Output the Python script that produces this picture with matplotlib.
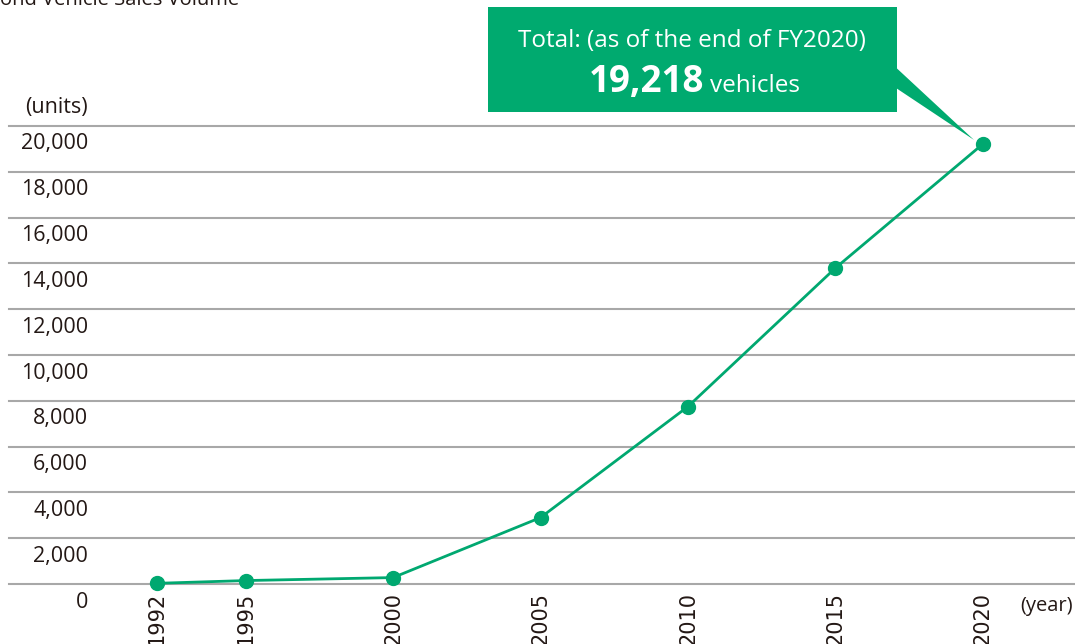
import matplotlib
matplotlib.use('Agg')
import matplotlib.pyplot as plt
from matplotlib.patches import Rectangle, Polygon
import matplotlib.transforms as mtransforms

# ---- data ----
years = [1992, 1995, 2000, 2005, 2010, 2015, 2020]
sales = [30, 150, 280, 2900, 7750, 13800, 19218]
y_ticks = list(range(0, 20001, 2000))
y_tick_labels = [f"{v:,}" for v in y_ticks]
x_tick_labels = [str(y) for y in years]
title = "ond Vehicle Sales Volume"
unit_label = "(units)"
year_label = "(year)"
callout_line1 = "Total: (as of the end of FY2020)"
callout_number = "19,218"
callout_unit = "vehicles"

# ---- style ----
green = "#00A870"
box_green = "#00AA6F"
grid_c = "#A8A8A8"
txt_c = "#231815"
plt.rcParams['font.family'] = ['Open Sans', 'DejaVu Sans']

W, H = 1075, 644
fig = plt.figure(figsize=(W / 100, H / 100), dpi=100)


def fx(px):
    return px / W


def fy(py):
    return 1 - py / H


ax = fig.add_axes([fx(9), fy(584), fx(1075) - fx(9), fy(126) - fy(584)])
ax.set_xlim(1986.98, 2023.12)
ax.set_ylim(0, 20000)
for s in ax.spines.values():
    s.set_visible(False)
ax.set_xticks([])
ax.set_yticks([])
ax.patch.set_alpha(0)

for v in y_ticks:
    ax.axhline(v, color=grid_c, lw=1.5, clip_on=False, zorder=1)

ax.plot(years, sales, color=green, lw=2, marker='o', ms=10,
        clip_on=False, zorder=3)

# y labels (below each gridline)
ytrans = mtransforms.offset_copy(
    mtransforms.blended_transform_factory(ax.transAxes, ax.transData),
    fig=fig, x=0, y=-18, units='dots')
xlab_frac = (88 - 9) / (1075 - 9)
for v, lab in zip(y_ticks, y_tick_labels):
    ax.text(xlab_frac, v, lab, transform=ytrans, ha='right', va='center',
            fontsize=15.5, color=txt_c, clip_on=False)

# x labels
xtrans = mtransforms.offset_copy(ax.transData, fig=fig, x=0, y=-8, units='dots')
for yr, lab in zip(years, x_tick_labels):
    ax.text(yr, 0, lab, transform=xtrans, rotation=90, ha='center', va='top',
            fontsize=15, color=txt_c, family='DejaVu Sans', clip_on=False)

fig.text(fx(1073), fy(606), year_label, ha='right', va='center',
         fontsize=14.5, color=txt_c)
fig.text(fx(88), fy(107), unit_label, ha='right', va='center',
         fontsize=15.5, color=txt_c)
fig.text(0, fy(5), title, ha='left', va='baseline', fontsize=14.5, color=txt_c)

# callout box
fig.add_artist(Rectangle((fx(488), fy(112)), fx(897) - fx(488), fy(7) - fy(112),
                         transform=fig.transFigure, facecolor=box_green,
                         edgecolor='none', zorder=5))
fig.canvas.draw()
tip = ax.transData.transform((years[-1], sales[-1]))
tip = fig.transFigure.inverted().transform((tip[0] - 9, tip[1] + 4))
fig.add_artist(Polygon([(fx(890), fy(62)), (fx(897), fy(62)), (fx(897), fy(84)),
                        (fx(890), fy(84)), tuple(tip)],
                       closed=True, transform=fig.transFigure,
                       facecolor=box_green, edgecolor='none', zorder=5))

fig.text(fx(692), fy(41), callout_line1, ha='center', va='center',
         fontsize=17.5, color='white', zorder=6)
fig.text(fx(704), fy(92), callout_number, ha='right', va='baseline',
         fontsize=26.5, fontweight='bold', color='white', zorder=6)
fig.text(fx(710), fy(92), callout_unit, ha='left', va='baseline',
         fontsize=17.5, color='white', zorder=6)

fig.savefig('out.png', dpi=100)
